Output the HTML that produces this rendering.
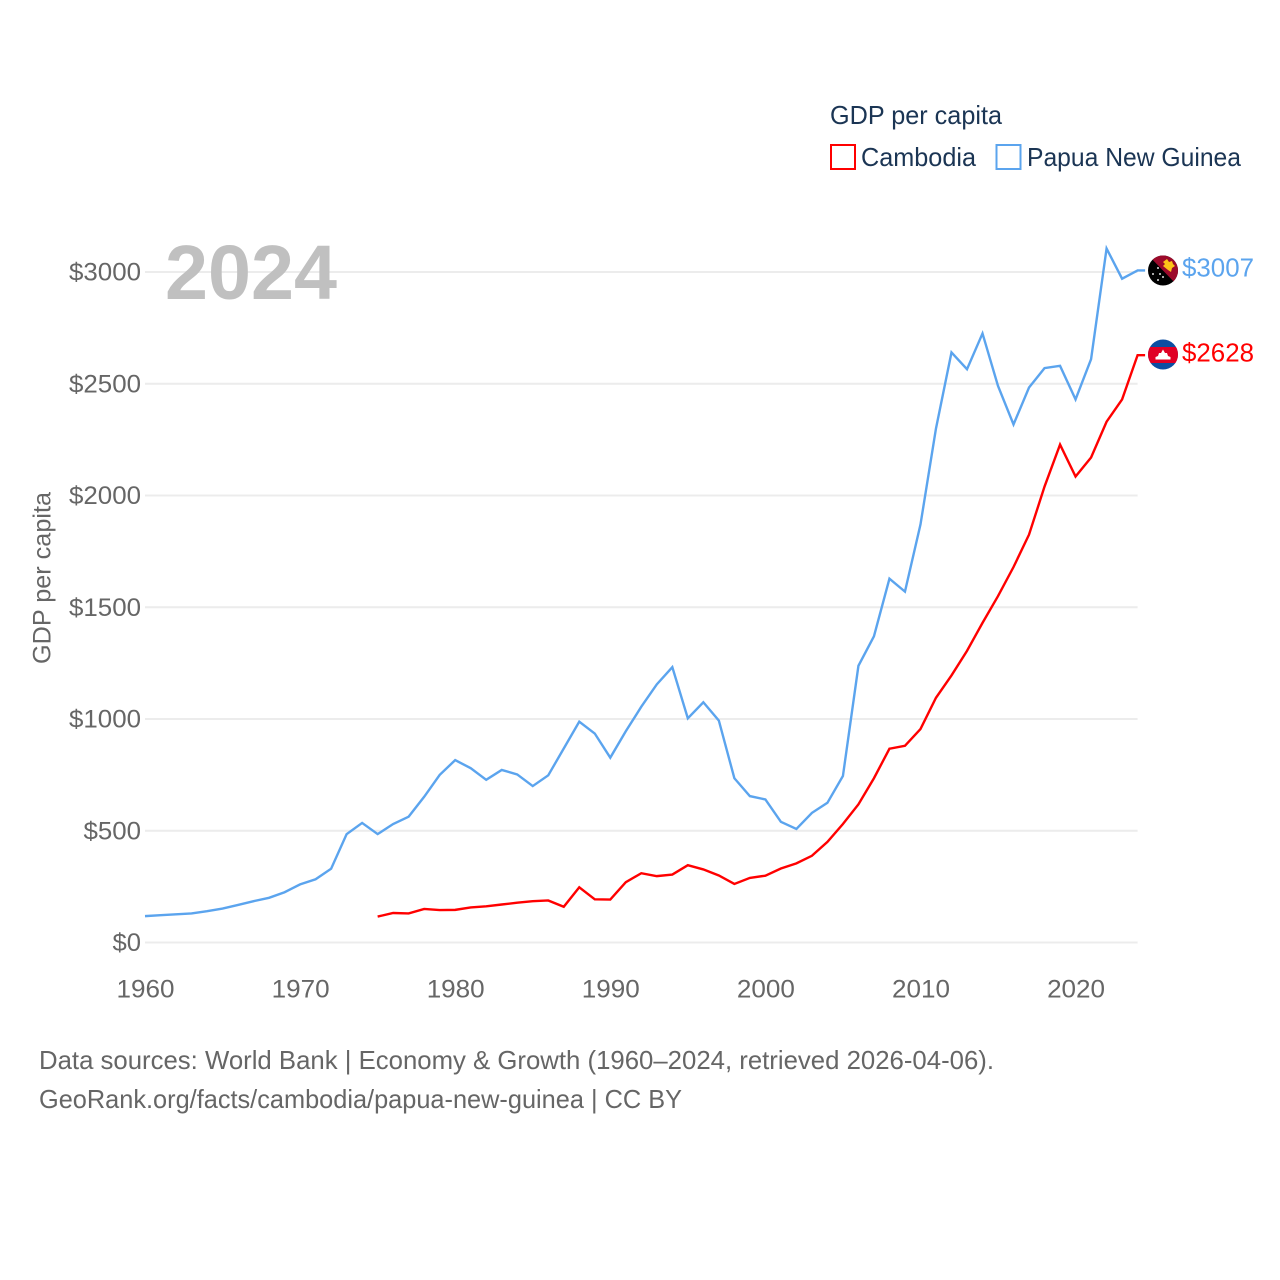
<!DOCTYPE html>
<html lang="en">
<head>
<meta charset="utf-8">
<title>GDP per capita: Cambodia and Papua New Guinea</title>
<style>
html,body{margin:0;padding:0;background:#fff;}
svg{display:block;}
text{font-family:"Liberation Sans",sans-serif;}
</style>
</head>
<body>
<svg id="chart" width="1280" height="1280" viewBox="0 0 1280 1280" xmlns="http://www.w3.org/2000/svg">
  <defs>
    <clipPath id="flag-clip-png"><circle cx="1163" cy="270.5" r="15"/></clipPath>
    <clipPath id="flag-clip-khm"><circle cx="1163" cy="354.5" r="15"/></clipPath>
  </defs>
  <rect x="0" y="0" width="1280" height="1280" fill="#ffffff"/>
  <g id="grid"></g>
  <g id="yticks"></g>
  <g id="xticks"></g>
  <text x="165" y="299" font-size="77" font-weight="700" fill="#c0c0c0" textLength="172" lengthAdjust="spacingAndGlyphs">2024</text>
  <text transform="translate(50.5,664) rotate(-90)" font-size="25" fill="#666666" textLength="172" lengthAdjust="spacingAndGlyphs">GDP per capita</text>
  <g id="series"></g>

  <g clip-path="url(#flag-clip-png)">
    <rect x="1148" y="255" width="30" height="31" fill="#000000"/>
    <polygon points="1148,255 1178,255 1178,286" fill="#9c0a2b"/>
    <polygon points="1167,259 1169,262 1172,261 1173,264 1175,266 1172,268 1171,272 1168,270 1163,266 1165,264 1163,262" fill="#fcc419"/>
    <circle cx="1158" cy="268" r="1" fill="#dddddd"/>
    <circle cx="1153" cy="274" r="1" fill="#dddddd"/>
    <circle cx="1160" cy="274" r="1" fill="#dddddd"/>
    <circle cx="1163" cy="277" r="1" fill="#dddddd"/>
    <circle cx="1158" cy="280" r="1" fill="#dddddd"/>
  </g>
  <g clip-path="url(#flag-clip-khm)">
    <rect x="1148" y="339" width="30" height="31" fill="#0b4ea2"/>
    <rect x="1148" y="347" width="30" height="16" fill="#e00025"/>
    <polygon points="1163,349.5 1165,353 1167,353 1168,356 1170.5,357 1170.5,359.5 1155.5,359.5 1155.5,357 1158,356 1159,353 1161,353" fill="#ffffff"/>
  </g>
  <text id="label-png" x="1182" y="276.5" font-size="26" fill="#5ba4ee" textLength="72" lengthAdjust="spacingAndGlyphs"></text>
  <text id="label-khm" x="1182" y="361.5" font-size="26" fill="#ff0000" textLength="72" lengthAdjust="spacingAndGlyphs"></text>

  <g>
    <text x="830" y="124" font-size="26" fill="#1b3554" textLength="172" lengthAdjust="spacingAndGlyphs">GDP per capita</text>
    <g>
      <rect x="831" y="145" width="24" height="24" fill="#ffffff" stroke="#ff0000" stroke-width="2"/>
      <text x="861" y="166" font-size="26" fill="#1b3554" textLength="115" lengthAdjust="spacingAndGlyphs">Cambodia</text>
    </g>
    <g>
      <rect x="996.5" y="145" width="24" height="24" fill="#ffffff" stroke="#5ba4ee" stroke-width="2"/>
      <text x="1027" y="166" font-size="26" fill="#1b3554" textLength="214" lengthAdjust="spacingAndGlyphs">Papua New Guinea</text>
    </g>
  </g>

  <g>
    <text x="39" y="1069" font-size="26" fill="#666666" textLength="955" lengthAdjust="spacingAndGlyphs">Data sources: World Bank | Economy &amp; Growth (1960–2024, retrieved 2026-04-06).</text>
    <text x="39" y="1108" font-size="26" fill="#666666" textLength="643" lengthAdjust="spacingAndGlyphs">GeoRank.org/facts/cambodia/papua-new-guinea | CC BY</text>
  </g>
</svg>
<script>
const firstYear = 1960;
const lastYear = 2024;
const cambodiaStartYear = 1975;
const yTickValues = [0, 500, 1000, 1500, 2000, 2500, 3000];
const xTickValues = [1960, 1970, 1980, 1990, 2000, 2010, 2020];
const pngValues = [118,122,126,130,140,152,168,185,200,225,260,283,330,485,535,485,530,563,652,750,816,780,728,772,752,700,748,868,988,935,827,945,1055,1155,1232,1003,1075,993,735,655,640,540,508,580,625,745,1238,1370,1628,1570,1870,2300,2640,2565,2725,2490,2318,2483,2570,2580,2430,2610,3105,2970,3007];
const cambodiaValues = [116,132,130,150,145,146,157,162,170,178,185,188,160,247,193,192,270,310,297,304,346,327,300,262,289,299,331,354,388,450,530,618,735,867,880,955,1095,1195,1305,1430,1550,1680,1825,2040,2228,2085,2170,2330,2430,2628];

const NS = 'http://www.w3.org/2000/svg';
const xLeft = 145, xRight = 1137.6, yZero = 942.5, yTop = 272, yTopValue = 3000;
function xScale(year) { return xLeft + (year - firstYear) * (xRight - xLeft) / (lastYear - firstYear); }
function yScale(v) { return yZero - v * (yZero - yTop) / yTopValue; }
function make(tag, attrs) {
  const el = document.createElementNS(NS, tag);
  for (const k in attrs) el.setAttribute(k, attrs[k]);
  return el;
}

const grid = document.getElementById('grid');
const yticks = document.getElementById('yticks');
yTickValues.forEach(function (v) {
  const line = make('line', {x1: xLeft, x2: xRight, y1: yScale(v), y2: yScale(v), stroke: '#ececec', 'stroke-width': 2});
  
  
  grid.appendChild(line);
  const t = make('text', {x: 141, y: yScale(v) + 8.5, 'font-size': 25, fill: '#666666', 'text-anchor': 'end'});
  
  
  t.textContent = '$' + v;
  t.setAttribute('textLength', 14.5 * String(v).length + 14);
  t.setAttribute('lengthAdjust', 'spacingAndGlyphs');
  yticks.appendChild(t);
});

const xticks = document.getElementById('xticks');
xTickValues.forEach(function (y) {
  const t = make('text', {x: xScale(y) + 0.5, y: 997.5, 'font-size': 25, fill: '#666666', 'text-anchor': 'middle', textLength: 58, lengthAdjust: 'spacingAndGlyphs'});
  
  
  t.textContent = y;
  xticks.appendChild(t);
});

function drawSeries(values, startYear, color, name) {
  const pts = values.map(function (v, i) { return xScale(startYear + i).toFixed(2) + ',' + yScale(v).toFixed(2); });
  const lastV = values[values.length - 1];
  pts.push((xScale(lastYear) + 7.5).toFixed(2) + ',' + yScale(lastV).toFixed(2));
  const line = make('polyline', {points: pts.join(' '), fill: 'none', stroke: color, 'stroke-width': 2.4, 'stroke-linejoin': 'miter'});
  
  
  document.getElementById('series').appendChild(line);
}
drawSeries(pngValues, firstYear, '#5ba4ee', 'line-papua-new-guinea');
drawSeries(cambodiaValues, cambodiaStartYear, '#ff0000', 'line-cambodia');

document.getElementById('label-png').textContent = '$' + pngValues[pngValues.length - 1];
document.getElementById('label-khm').textContent = '$' + cambodiaValues[cambodiaValues.length - 1];
</script>
</body>
</html>
